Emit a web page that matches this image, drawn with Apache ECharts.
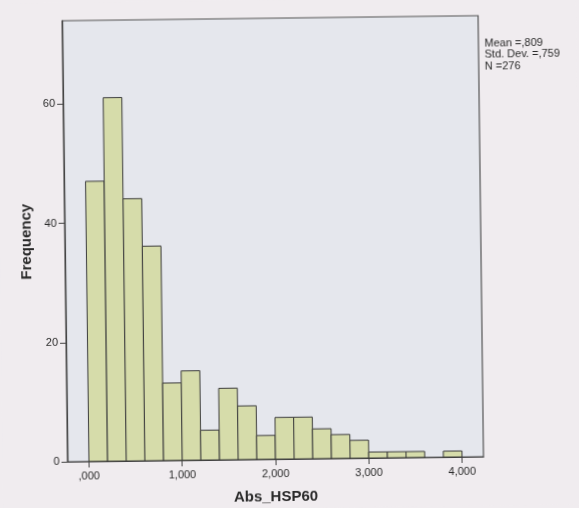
<!DOCTYPE html>
<html>
<head>
<meta charset="utf-8">
<script src="https://cdn.jsdelivr.net/npm/echarts@6/dist/echarts.min.js"></script>
<style>
html,body{margin:0;padding:0;background:#f0ecef;overflow:hidden;}
#c{width:579px;height:508px;transform:rotate(-0.7deg);transform-origin:50% 50%;}
</style>
</head>
<body>
<div id="c"></div>
<script>
// Histogram bins of Abs_HSP60 (width 0.2)
const binStarts = [0.0,0.2,0.4,0.6,0.8,1.0,1.2,1.4,1.6,1.8,2.0,2.2,2.4,2.6,2.8,3.0,3.2,3.4,3.6,3.8];
const binWidth = 0.2;
const counts = [47,61,44,36,13,15,5,12,9,4,7,7,5,4,3,1,1,1,0,1];
const xTicks = [0,1,2,3,4];
const xTickLabels = [',000','1,000','2,000','3,000','4,000'];
const yTicks = [0,20,40,60];
const statsLines = ['Mean =,809','Std. Dev. =,759','N =276'];

const data = binStarts.map((s,i)=>[s, s+binWidth, counts[i]]);

const chart = echarts.init(document.getElementById('c'), null, {renderer:'canvas'});
const font = 'Arial, "Liberation Sans", sans-serif';
chart.setOption({
  animation:false,
  backgroundColor:'#f0ecef',
  grid:{left:65,right:98,top:18,bottom:49,outerBoundsMode:'none',containLabel:false,show:true,backgroundColor:'#e5e7ed',borderColor:'#555',borderWidth:1.2},
  xAxis:{
    type:'value',min:-0.23,max:4.23,
    axisLine:{show:true,onZero:false,lineStyle:{color:'#444',width:1.2}},
    axisTick:{show:true,length:6,customValues:xTicks,lineStyle:{color:'#444'}},
    axisLabel:{customValues:xTicks,formatter:v=>xTickLabels[xTicks.indexOf(Math.round(v))]||'',color:'#2a2a2a',fontSize:11,fontFamily:font,margin:9},
    splitLine:{show:false},
    name:'Abs_HSP60',nameLocation:'middle',nameGap:30,
    nameTextStyle:{fontSize:15,fontWeight:'bold',color:'#2a2a2a',fontFamily:font}
  },
  yAxis:{
    type:'value',min:0,max:74,
    axisLine:{show:true,onZero:false,lineStyle:{color:'#444',width:1.2}},
    axisTick:{show:true,length:6,customValues:yTicks,lineStyle:{color:'#444'}},
    axisLabel:{customValues:yTicks,color:'#2a2a2a',fontSize:11,fontFamily:font,margin:8},
    splitLine:{show:false},
    name:'Frequency',nameLocation:'middle',nameGap:30,nameRotate:90,
    nameTextStyle:{fontSize:15,fontWeight:'bold',color:'#2a2a2a',fontFamily:font}
  },
  series:[{
    type:'custom',
    data:data,
    encode:{x:[0,1],y:2},
    renderItem:function(params,api){
      const a = api.coord([api.value(0),api.value(2)]);
      const b = api.coord([api.value(1),0]);
      if(api.value(2)<=0) return null;
      return {type:'rect',shape:{x:a[0],y:a[1],width:b[0]-a[0],height:b[1]-a[1]},
        style:{fill:'#d6dcaa',stroke:'#3c3c3c',lineWidth:1}};
    }
  }],
  graphic:[{
    type:'text',left:487,top:40,
    style:{text:statsLines.join('\n'),fontSize:11,lineHeight:11.5,fontFamily:font,fill:'#2a2a2a'}
  }]
});
</script>
</body>
</html>
